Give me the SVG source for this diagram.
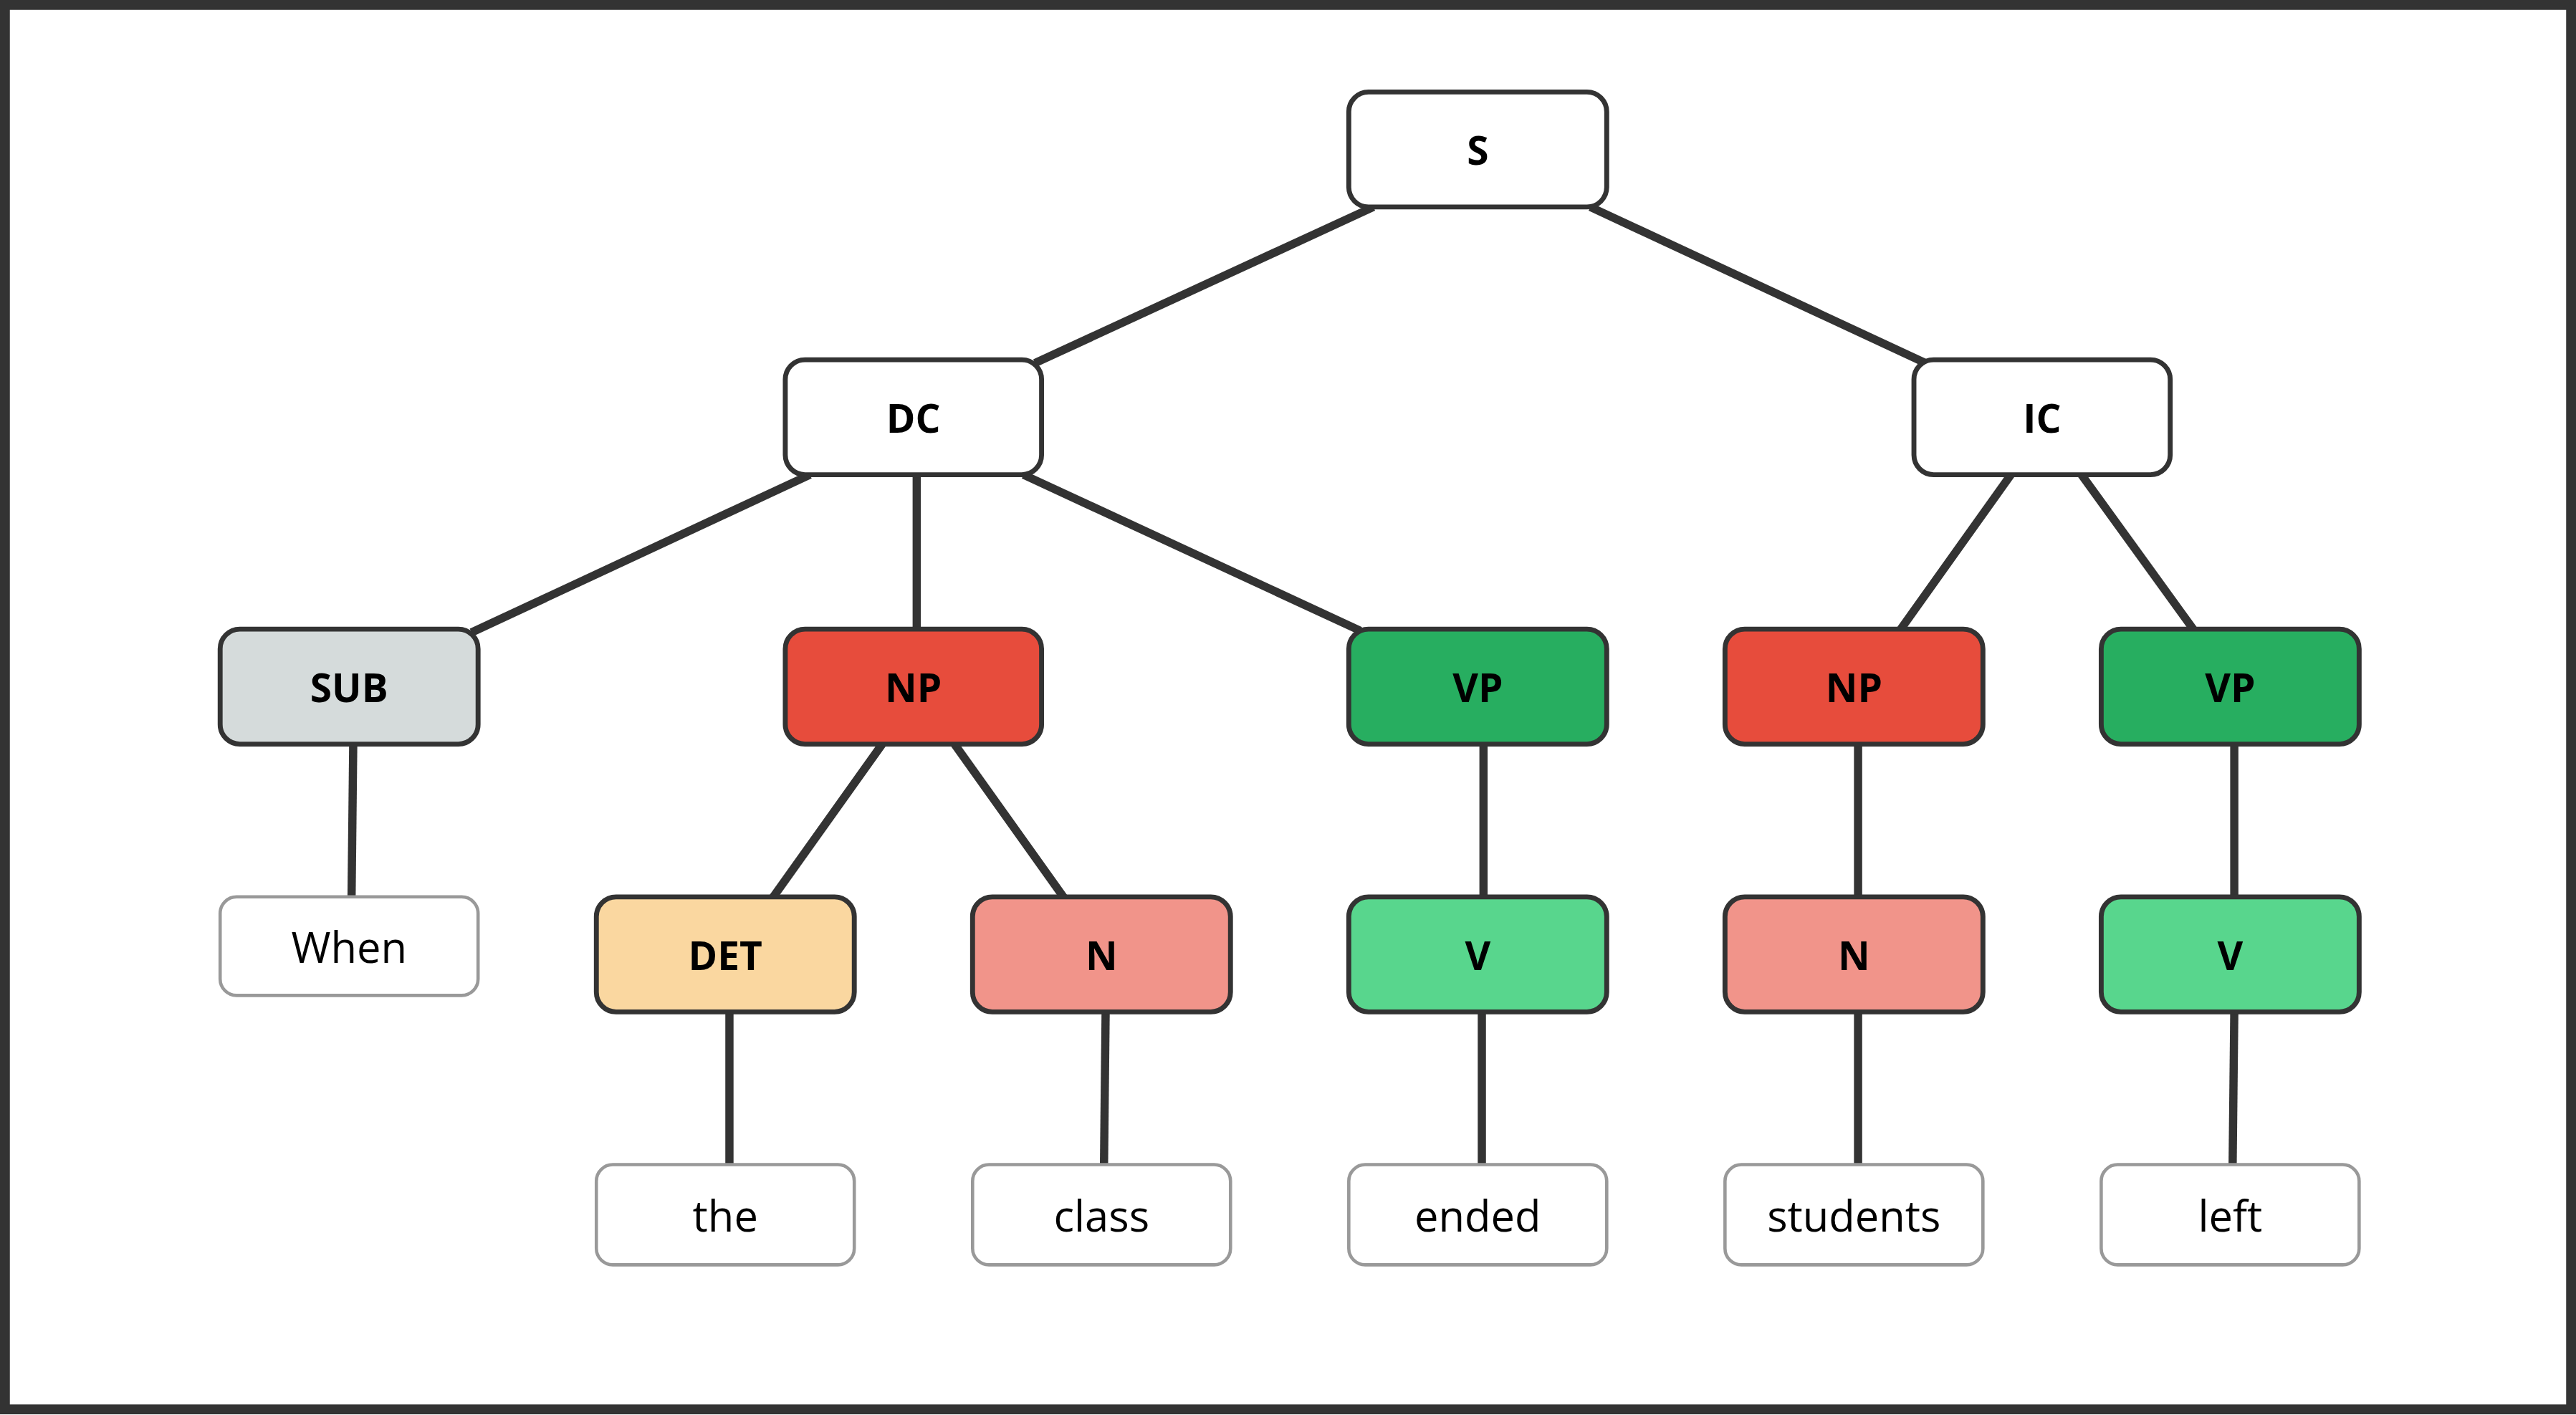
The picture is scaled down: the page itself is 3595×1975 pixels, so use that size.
<svg xmlns="http://www.w3.org/2000/svg" width="3595" height="1975" viewBox="0 0 3595 1975">
<style>
.n{stroke:#333;stroke-width:3}
.l{fill:#fff;stroke:#999;stroke-width:2}
.t{font-family:"Open Sans","Noto Sans",sans-serif;font-size:24px;font-weight:bold;fill:#000;text-anchor:middle;dominant-baseline:central}
.w{font-family:"Open Sans","Noto Sans",sans-serif;font-size:26px;fill:#000;text-anchor:middle;dominant-baseline:central}
#edges line{stroke:#333;stroke-width:5}
</style>
<rect x="0" y="0" width="3595" height="1975" fill="#fff"/>
<g transform="scale(2.29273)">
<rect x="3" y="3" width="1562" height="855" fill="none" stroke="#333" stroke-width="6"/>
<g id="edges">
<line x1="836" y1="126" x2="630" y2="221"/>
<line x1="968" y1="126" x2="1172" y2="221"/>
<line x1="493" y1="289" x2="287" y2="385"/>
<line x1="558" y1="289" x2="558" y2="383"/>
<line x1="623" y1="289" x2="828" y2="384"/>
<line x1="1224" y1="289" x2="1157" y2="383"/>
<line x1="1267" y1="289" x2="1335" y2="383"/>
<line x1="215" y1="453" x2="214" y2="546"/>
<line x1="537" y1="453" x2="470" y2="547"/>
<line x1="581" y1="453" x2="648" y2="547"/>
<line x1="903" y1="453" x2="903" y2="546"/>
<line x1="1131" y1="453" x2="1131" y2="546"/>
<line x1="1360" y1="453" x2="1360" y2="546"/>
<line x1="444" y1="616" x2="444" y2="709"/>
<line x1="673" y1="616" x2="672" y2="709"/>
<line x1="902" y1="616" x2="902" y2="709"/>
<line x1="1131" y1="616" x2="1131" y2="709"/>
<line x1="1360" y1="616" x2="1359" y2="709"/>
</g>
<g id="S"><rect class="n" x="821" y="56" width="157" height="70" rx="12" fill="#fff"/><text class="t" x="899.5" y="91">S</text></g>
<g id="DC"><rect class="n" x="478" y="219" width="156" height="70" rx="12" fill="#fff"/><text class="t" x="556" y="254">DC</text></g>
<g id="IC"><rect class="n" x="1165" y="219" width="156" height="70" rx="12" fill="#fff"/><text class="t" x="1243" y="254">IC</text></g>
<g id="SUB"><rect class="n" x="134" y="383" width="157" height="70" rx="12" fill="#d5dbdb"/><text class="t" x="212.5" y="418">SUB</text></g>
<g id="NP1"><rect class="n" x="478" y="383" width="156" height="70" rx="12" fill="#e74c3c"/><text class="t" x="556" y="418">NP</text></g>
<g id="VP1"><rect class="n" x="821" y="383" width="157" height="70" rx="12" fill="#27ae60"/><text class="t" x="899.5" y="418">VP</text></g>
<g id="NP2"><rect class="n" x="1050" y="383" width="157" height="70" rx="12" fill="#e74c3c"/><text class="t" x="1128.5" y="418">NP</text></g>
<g id="VP2"><rect class="n" x="1279" y="383" width="157" height="70" rx="12" fill="#27ae60"/><text class="t" x="1357.5" y="418">VP</text></g>
<g id="When"><rect class="l" x="134" y="546" width="157" height="60" rx="10"/><text class="w" x="212.5" y="576">When</text></g>
<g id="DET"><rect class="n" x="363" y="546" width="157" height="70" rx="12" fill="#fad7a0"/><text class="t" x="441.5" y="581">DET</text></g>
<g id="N1"><rect class="n" x="592" y="546" width="157" height="70" rx="12" fill="#f1948a"/><text class="t" x="670.5" y="581">N</text></g>
<g id="V1"><rect class="n" x="821" y="546" width="157" height="70" rx="12" fill="#58d68d"/><text class="t" x="899.5" y="581">V</text></g>
<g id="N2"><rect class="n" x="1050" y="546" width="157" height="70" rx="12" fill="#f1948a"/><text class="t" x="1128.5" y="581">N</text></g>
<g id="V2"><rect class="n" x="1279" y="546" width="157" height="70" rx="12" fill="#58d68d"/><text class="t" x="1357.5" y="581">V</text></g>
<g id="the"><rect class="l" x="363" y="709" width="157" height="61" rx="10"/><text class="w" x="441.5" y="739.5">the</text></g>
<g id="class"><rect class="l" x="592" y="709" width="157" height="61" rx="10"/><text class="w" x="670.5" y="739.5">class</text></g>
<g id="ended"><rect class="l" x="821" y="709" width="157" height="61" rx="10"/><text class="w" x="899.5" y="739.5">ended</text></g>
<g id="students"><rect class="l" x="1050" y="709" width="157" height="61" rx="10"/><text class="w" x="1128.5" y="739.5">students</text></g>
<g id="left"><rect class="l" x="1279" y="709" width="157" height="61" rx="10"/><text class="w" x="1357.5" y="739.5">left</text></g>
</g>
</svg>
